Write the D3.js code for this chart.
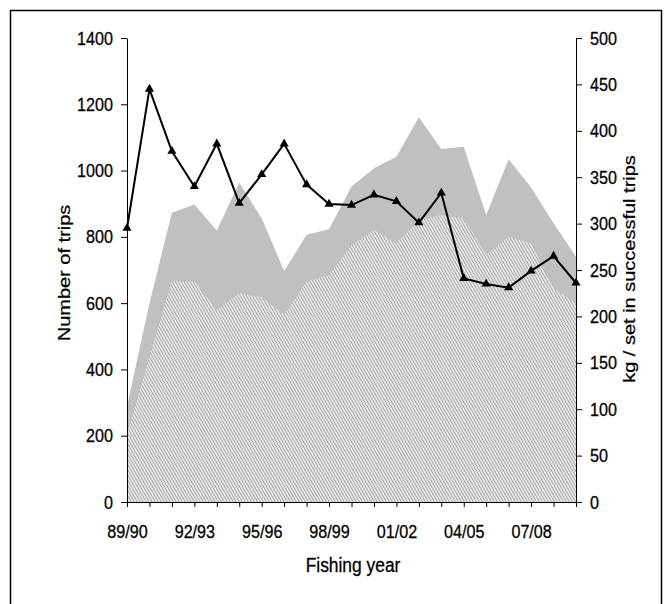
<!DOCTYPE html>
<html>
<head>
<meta charset="utf-8">
<script src="https://cdn.jsdelivr.net/npm/d3@7"></script>
<style>
  html, body { margin: 0; padding: 0; background: #fff; }
  svg { display: block; }
  text { font-family: Arial, "Liberation Sans", sans-serif; fill: #000; stroke: #000; stroke-width: 0.3px; }
</style>
</head>
<body>
<svg id="chart" width="671" height="604"></svg>
<script>
// Fishing years on the x axis (one tick per year)
const years = ["89/90","90/91","91/92","92/93","93/94","94/95","95/96","96/97","97/98","98/99",
               "99/00","00/01","01/02","02/03","03/04","04/05","05/06","06/07","07/08","08/09","09/10"];
// Years that carry a label
const labelledYears = ["89/90","92/93","95/96","98/99","01/02","04/05","07/08"];

// Number of trips (left axis)
const totalTrips = [288, 600, 873, 898, 819, 963, 856, 697, 806, 823, 952,
                    1007, 1042, 1161, 1065, 1072, 866, 1034, 949, 841, 740];
const successfulTrips = [202, 440, 665, 665, 579, 630, 618, 564, 665, 685, 775,
                         821, 780, 851, 866, 856, 745, 800, 780, 645, 600];

// kg / set in successful trips (right axis)
const kgPerSet = [295, 445, 378, 340, 386, 322, 353, 386, 342, 321, 320,
                  331, 324, 301, 333, 241, 235, 231, 249, 265, 236];

const leftTicks = [0, 200, 400, 600, 800, 1000, 1200, 1400];
const rightTicks = [0, 50, 100, 150, 200, 250, 300, 350, 400, 450, 500];

const svg = d3.select("#chart");
const plot = { left: 127, right: 576, top: 38, bottom: 502 };
const squeeze = 0.85;

// outer frame
svg.append("rect")
  .attr("x", 10.5).attr("y", 10.5)
  .attr("width", 651).attr("height", 640)
  .attr("fill", "none").attr("stroke", "#000").attr("stroke-width", 1.5);

const x = d3.scalePoint().domain(years).range([plot.left, plot.right]);
const yL = d3.scaleLinear().domain([0, 1400]).range([plot.bottom, plot.top]);
const yR = d3.scaleLinear().domain([0, 500]).range([plot.bottom, plot.top]);

// fine hatch fill for successful trips
const defs = svg.append("defs");
const pat = defs.append("pattern")
  .attr("id", "hatch")
  .attr("patternUnits", "userSpaceOnUse")
  .attr("width", 2.6).attr("height", 2.6)
  .attr("patternTransform", "rotate(-30)");
pat.append("rect").attr("width", 2.6).attr("height", 2.6).attr("fill", "#ebebeb");
pat.append("rect").attr("width", 1).attr("height", 2.6).attr("fill", "#a4a4a4");

const area = d3.area()
  .x((d, i) => x(years[i]))
  .y0(yL(0))
  .y1(d => yL(d));

svg.append("path")
  .datum(totalTrips)
  .attr("d", area)
  .attr("fill", "#c0c0c0");

svg.append("path")
  .datum(successfulTrips)
  .attr("d", area)
  .attr("fill", "url(#hatch)");

// kg / set line with triangle markers
const line = d3.line()
  .x((d, i) => x(years[i]))
  .y(d => yR(d));

svg.append("path")
  .datum(kgPerSet)
  .attr("d", line)
  .attr("fill", "none")
  .attr("stroke", "#000")
  .attr("stroke-width", 2);

svg.selectAll(".marker")
  .data(kgPerSet)
  .join("path")
  .attr("class", "marker")
  .attr("d", d3.symbol(d3.symbolTriangle, 36))
  .attr("transform", (d, i) => `translate(${x(years[i])},${yR(d)})`)
  .attr("fill", "#000");

// squeeze tick labels horizontally, keeping their anchor point
function squeezeLabels(g, fontSize) {
  g.selectAll("text").each(function() {
    const t = d3.select(this);
    const tx = +t.attr("x") || 0;
    t.attr("x", tx / squeeze)
     .attr("transform", `scale(${squeeze},1)`)
     .style("font-size", fontSize + "px");
  });
}

// left axis
const gL = svg.append("g")
  .attr("transform", `translate(${plot.left},0)`)
  .call(d3.axisLeft(yL).tickValues(leftTicks).tickFormat(d3.format("d"))
    .tickSize(6).tickSizeOuter(0).tickPadding(8));
squeezeLabels(gL, 19);

// right axis
const gR = svg.append("g")
  .attr("transform", `translate(${plot.right},0)`)
  .call(d3.axisRight(yR).tickValues(rightTicks).tickFormat(d3.format("d"))
    .tickSize(6).tickSizeOuter(0).tickPadding(8));
squeezeLabels(gR, 19);

// bottom axis: a tick per year, a label every third year
const gB = svg.append("g")
  .attr("transform", `translate(0,${plot.bottom})`)
  .call(d3.axisBottom(x).tickSize(5).tickSizeOuter(0).tickPadding(18)
    .tickFormat(d => labelledYears.includes(d) ? d : ""));
squeezeLabels(gB, 19);

[gL, gR, gB].forEach(g => {
  g.select(".domain").attr("stroke", "#000").attr("stroke-width", 1);
  g.selectAll(".tick line").attr("stroke", "#000").attr("stroke-width", 1);
});

// axis titles
svg.append("text")
  .attr("transform", `translate(70,273) rotate(-90) scale(1,${squeeze})`)
  .attr("text-anchor", "middle")
  .style("font-size", "20px")
  .text("Number of trips");

svg.append("text")
  .attr("transform", `translate(635,269) rotate(-90) scale(1,${squeeze})`)
  .attr("text-anchor", "middle")
  .style("font-size", "20px")
  .text("kg / set in successful trips");

svg.append("text")
  .attr("transform", `translate(353,572) scale(${squeeze + 0.02},1)`)
  .attr("text-anchor", "middle")
  .style("font-size", "20px")
  .text("Fishing year");
</script>
</body>
</html>
